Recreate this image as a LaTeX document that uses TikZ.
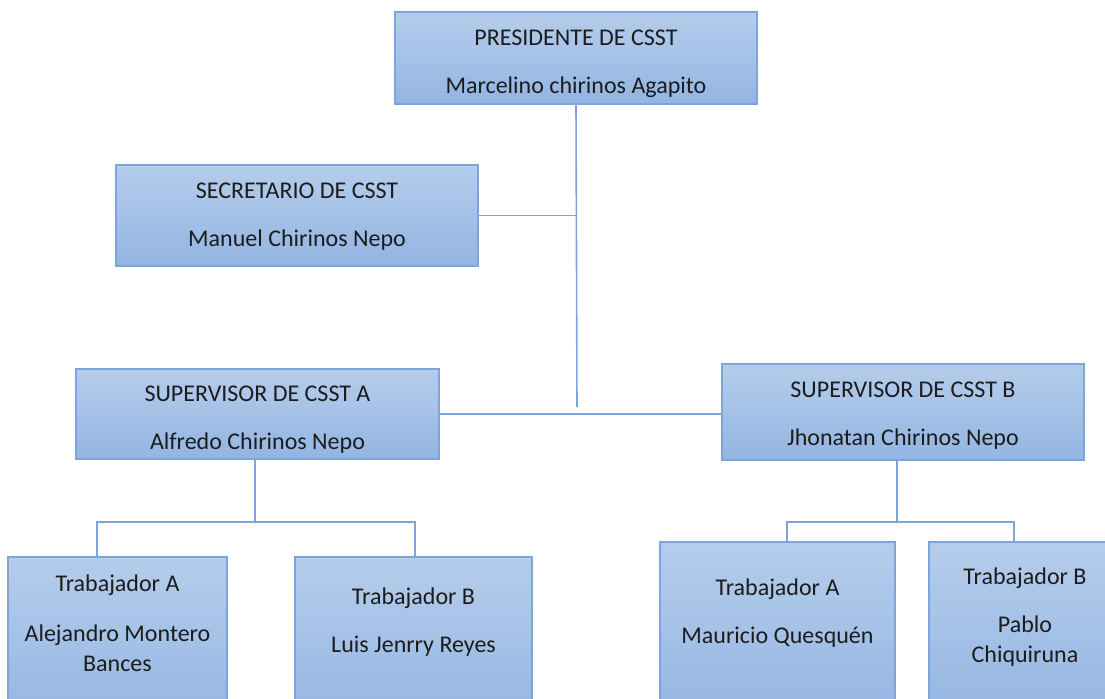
\documentclass[tikz,border=0pt]{standalone}
\usepackage{fontspec}
\setmainfont{Carlito}
\definecolor{boxtop}{HTML}{B5CDEB}
\definecolor{boxbot}{HTML}{93B5E2}
\definecolor{boxline}{HTML}{7EA5DA}
\definecolor{txt}{HTML}{1C1C1C}
\tikzset{
  cbox/.style={draw=boxline, line width=0.8pt, top color=boxtop, bottom color=boxbot, inner sep=0pt},
  cname/.style={align=center, text=txt, inner sep=0pt, font=\fontsize{12}{15}\selectfont},
  link/.style={draw=boxline, line width=0.8pt}
}
\begin{document}
\begin{tikzpicture}[x=0.5pt,y=-0.5pt]
      \useasboundingbox (0,0) rectangle (1105,698);
      \clip (0,0) rectangle (1105,698);
      % committee
      \node[cbox, minimum width=181pt, minimum height=46pt] (pres) at (576,58) {};
      \node[cname] (presT) at (576,63.5) {PRESIDENTE DE CSST\\[9pt]Marcelino chirinos Agapito};
      \node[cbox, minimum width=181pt, minimum height=50.5pt] (secr) at (297,215.5) {};
      \node[cname] (secrT) at (297,216.5) {SECRETARIO DE CSST\\[9pt]Manuel Chirinos Nepo};
      \node[cbox, minimum width=181.5pt, minimum height=45pt] (supA) at (257.5,414) {};
      \node[cname] (supAT) at (257.5,420) {SUPERVISOR DE CSST A\\[9pt]Alfredo Chirinos Nepo};
      \node[cbox, minimum width=181pt, minimum height=48pt] (supB) at (903,412) {};
      \node[cname] (supBT) at (903,415.5) {SUPERVISOR DE CSST B\\[9pt]Jhonatan Chirinos Nepo};
      % workers
      \node[cbox, minimum width=109.5pt, minimum height=85pt] (tA1) at (117.5,642) {};
      \node[cname] (tA1T) at (117.5,623) {Trabajador A\\[10pt]Alejandro Montero\\Bances};
      \node[cbox, minimum width=118.5pt, minimum height=85pt] (tB1) at (413.5,642) {};
      \node[cname] (tB1T) at (413.5,622) {Trabajador B\\[9pt]Luis Jenrry Reyes};
      \node[cbox, minimum width=117.5pt, minimum height=90pt] (tA2) at (777.5,632) {};
      \node[cname] (tA2T) at (777.5,613) {Trabajador A\\[9pt]Mauricio Quesquén};
      \node[cbox, minimum width=96pt, minimum height=90pt] (tB2) at (1025,632) {};
      \node[cname] (tB2T) at (1025,617.5) {Trabajador B\\[9pt]Pablo\\Chiquiruna};
      % lines
      \coordinate (hub) at (577,407);
      \draw[link] (pres.south) -- (hub);
      \draw[link] (secr.east) -- (secr.east -| hub);
      \draw[link] (supA.east) -- (supA.east -| supB.west);
      \coordinate (jA) at (255,522);
      \coordinate (kA1) at (97,540);
      \coordinate (kB1) at (415,540);
      \draw[link] (supA.south -| jA) -- (jA);
      \draw[link] (tA1.north -| kA1) |- (jA) -| (tB1.north -| kB1);
      \coordinate (jB) at (897,522);
      \coordinate (kA2) at (787,530);
      \coordinate (kB2) at (1014,530);
      \draw[link] (supB.south -| jB) -- (jB);
      \draw[link] (tA2.north -| kA2) |- (jB) -| (tB2.north -| kB2);
\end{tikzpicture}
\end{document}
